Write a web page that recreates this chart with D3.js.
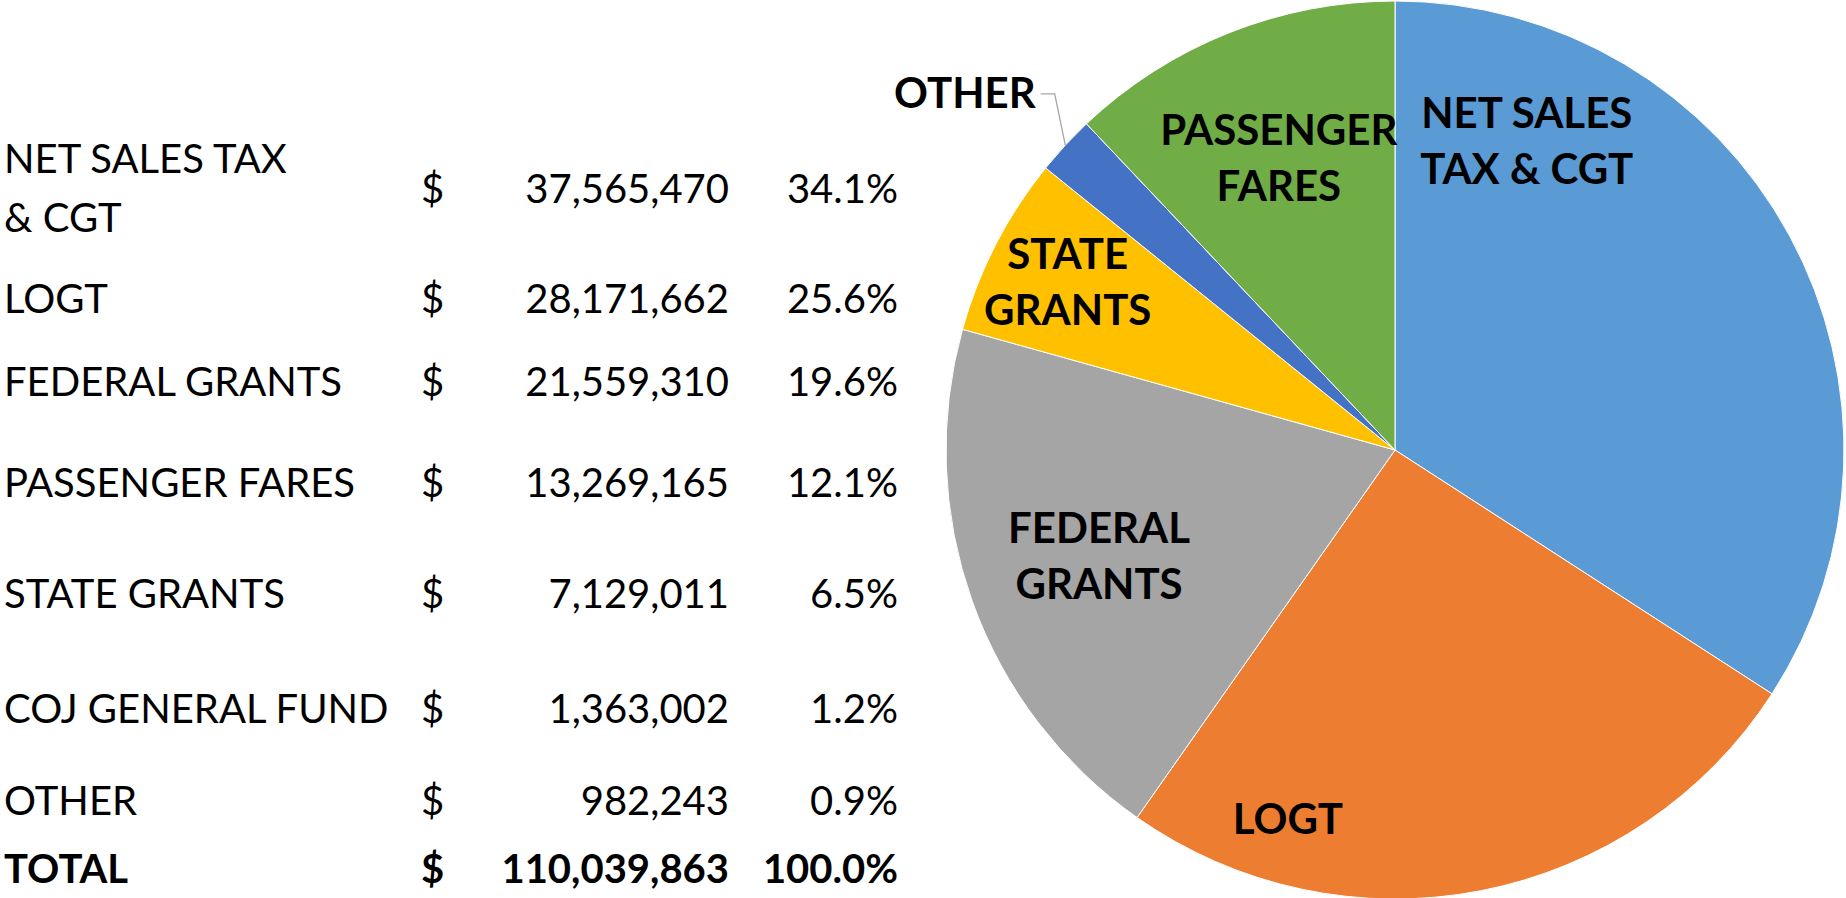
<!DOCTYPE html>
<html>
<head>
<meta charset="utf-8">
<script src="https://cdn.jsdelivr.net/npm/d3@7"></script>
<style>
  body { margin: 0; background: #fff; }
  text { font-family: Lato, "Open Sans", sans-serif; fill: #000; }
</style>
</head>
<body>
<div class="grafico"></div>
<script>
// table rows (same order as the spreadsheet)
const categories = ["NET SALES TAX & CGT", "LOGT", "FEDERAL GRANTS", "PASSENGER FARES",
                    "STATE GRANTS", "COJ GENERAL FUND", "OTHER"];
const tableLabels = [["NET SALES TAX", "& CGT"], ["LOGT"], ["FEDERAL GRANTS"], ["PASSENGER FARES"],
                     ["STATE GRANTS"], ["COJ GENERAL FUND"], ["OTHER"]];
const amounts = [37565470, 28171662, 21559310, 13269165, 7129011, 1363002, 982243];

// pie slices, clockwise from 12 o'clock; COJ + OTHER are drawn as one slice
const pieKeys = ["NET SALES TAX & CGT", "LOGT", "FEDERAL GRANTS", "STATE GRANTS", "OTHER", "PASSENGER FARES"];
const pieLabels = [["NET SALES", "TAX & CGT"], ["LOGT"], ["FEDERAL", "GRANTS"], ["STATE", "GRANTS"], ["OTHER"], ["PASSENGER", "FARES"]];
const pieColors = ["#5B9BD5", "#ED7D31", "#A5A5A5", "#FFC000", "#4472C4", "#70AD47"];

const width = 1846, height = 898;
const radius = 449;
const cx = 1395, cy = 450;

const svg = d3.select(".grafico")
    .append("svg")
    .attr("width", width)
    .attr("height", height);

// ---------- table ----------
const total = d3.sum(amounts);
const moneyFormat = d3.format(",");
const percentFormat = d3.format(".1%");
const tableFont = 40;
// spreadsheet row baselines
const rowBase = [203, 313, 396, 497, 608, 723, 815];
const totalBase = 883;
const xLabel = 4, xDollar = 421, xAmount = 729, xPct = 898;

const tbl = svg.append("g").attr("class", "tabla");
const rows = tbl.selectAll("g.row")
    .data(categories.map((c, i) => ({ key: c, lines: tableLabels[i], value: amounts[i], y: rowBase[i] })))
    .enter().append("g")
    .attr("class", "row")
    .style("font-size", tableFont + "px");

rows.append("text")
    .attr("x", xLabel)
    .attr("y", d => d.lines.length > 1 ? d.y - 30 : d.y)
    .selectAll("tspan")
    .data(d => d.lines)
    .enter().append("tspan")
    .attr("x", xLabel)
    .attr("dy", (d, i) => i ? 59 : 0)
    .text(d => d);

rows.append("text").attr("x", xDollar).attr("y", d => d.y).text("$");
rows.append("text").attr("x", xAmount).attr("y", d => d.y)
    .attr("text-anchor", "end").text(d => moneyFormat(d.value));
rows.append("text").attr("x", xPct).attr("y", d => d.y)
    .attr("text-anchor", "end").text(d => percentFormat(d.value / total));

const tot = tbl.append("g").style("font-size", tableFont + "px").style("font-weight", "bold");
tot.append("text").attr("x", xLabel).attr("y", totalBase).text("TOTAL");
tot.append("text").attr("x", xDollar).attr("y", totalBase).text("$");
tot.append("text").attr("x", xAmount).attr("y", totalBase).attr("text-anchor", "end").text(moneyFormat(total));
tot.append("text").attr("x", xPct).attr("y", totalBase).attr("text-anchor", "end").text(percentFormat(1));

// ---------- pie ----------
const pieValues = pieKeys.map(k => k === "OTHER"
    ? amounts[categories.indexOf("COJ GENERAL FUND")] + amounts[categories.indexOf("OTHER")]
    : amounts[categories.indexOf(k)]);

const pie = d3.pie().value(d => d.value).sort(null);
const arc = d3.arc().innerRadius(0).outerRadius(radius);
const arcs = pie(pieKeys.map((k, i) => ({ key: k, value: pieValues[i], lines: pieLabels[i] })));

const gPie = svg.append("g").attr("transform", `translate(${cx}, ${cy})`);
gPie.selectAll("path")
    .data(arcs)
    .enter().append("path")
    .attr("d", arc)
    .attr("fill", (d, i) => pieColors[i])
    .attr("stroke", "#fff")
    .attr("stroke-width", 1);

function midAngle(d) {
    return d.startAngle + (d.endAngle - d.startAngle) / 2;
}

// label spots in polar form (degrees from 12 o'clock, share of radius); null angle = slice middle
const labelSpot = {
    "NET SALES TAX & CGT": [23.1, 0.748],
    "LOGT": [196.2, 0.855],
    "FEDERAL GRANTS": [null, 0.70],
    "STATE GRANTS": [null, 0.82],
    "OTHER": [309.7, 1.245],
    "PASSENGER FARES": [null, 0.70]
};
const labelFont = 42, labelLead = 56, capH = labelFont * 0.72;

const labels = gPie.append("g").attr("class", "labels")
    .style("font-size", labelFont + "px").style("font-weight", "bold");

arcs.forEach(d => {
    const spot = labelSpot[d.data.key];
    const ang = spot[0] === null ? midAngle(d) : spot[0] * Math.PI / 180;
    const p = d3.pointRadial(ang, spot[1] * radius);
    const n = d.data.lines.length;
    const y0 = p[1] - (n - 1) * labelLead / 2 + capH / 2;
    const t = labels.append("text")
        .attr("text-anchor", "middle")
        .attr("x", p[0]).attr("y", y0);
    t.selectAll("tspan").data(d.data.lines).enter().append("tspan")
        .attr("x", p[0]).attr("dy", (s, i) => i ? labelLead : 0).text(s => s);

    if (d.data.key === "OTHER") {
        const w = t.node().getComputedTextLength();
        const edge = d3.pointRadial(midAngle(d), radius);
        const yl = p[1] + 1;
        gPie.append("polyline")
            .attr("points", [[p[0] + w / 2 + 5, yl], [p[0] + w / 2 + 19, yl], edge].join(" "))
            .attr("fill", "none")
            .attr("stroke", "#A6A6A6")
            .attr("stroke-width", 1.3);
    }
});
</script>
</body>
</html>
